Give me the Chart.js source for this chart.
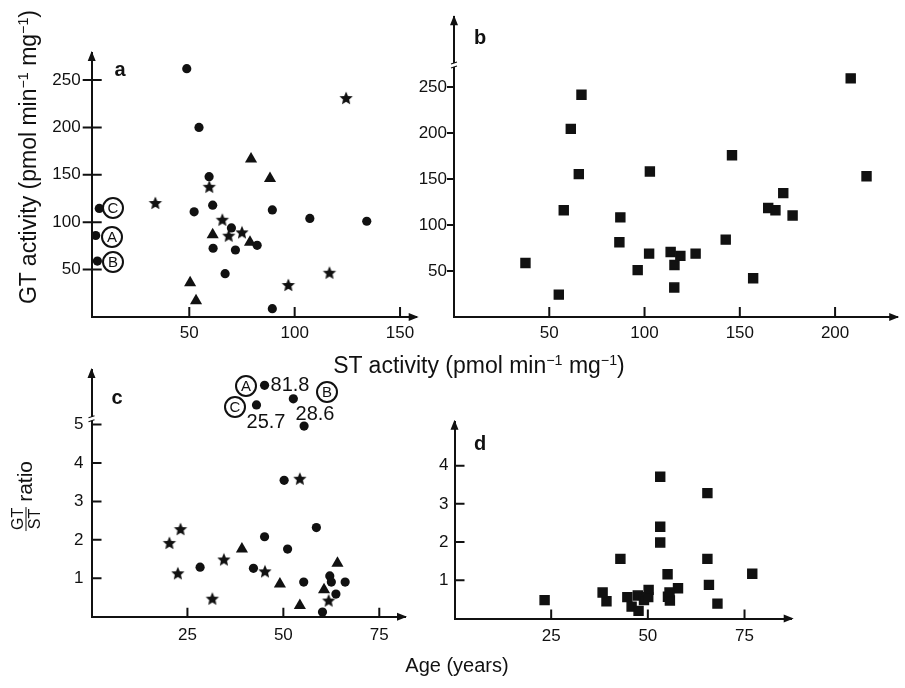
<!DOCTYPE html>
<html>
<head>
<meta charset="utf-8">
<script src="https://cdn.jsdelivr.net/npm/chart.js@4.4.1/dist/chart.umd.min.js"></script>
<style>
body { margin: 0; background: #fff; }
#wrap { position: relative; width: 905px; height: 688px; overflow: hidden; font-family: "Liberation Sans", Arial, sans-serif; color: #111; }
#wrap canvas { position: absolute; left: 0; top: 0; }
.t { position: absolute; white-space: nowrap; line-height: 1; transform: translate(-50%, -50%); }
.title { font-size: 23px; }
.rot { transform: translate(-50%, -50%) rotate(-90deg); }
.letter { font-size: 20px; font-weight: bold; }
.ring { position: absolute; width: 18px; height: 18px; border: 2px solid #111; border-radius: 50%; font-size: 15px; line-height: 18px; text-align: center; transform: translate(-50%, -50%); }
.num { font-size: 20px; }
sup { font-size: 0.62em; vertical-align: 0.55em; }
.frac { display: inline-block; vertical-align: middle; text-align: center; font-size: 16px; line-height: 1; margin-right: 5px; }
.frac span { display: block; padding: 0 1px; }
.frac span:first-child { border-bottom: 1.5px solid #111; }
</style>
</head>
<body>
<div id="wrap">
  <canvas id="chartA" width="905" height="688"></canvas>
  <canvas id="chartB" width="905" height="688"></canvas>
  <canvas id="chartC" width="905" height="688"></canvas>
  <canvas id="chartD" width="905" height="688"></canvas>

  <div class="t title rot" style="left:28px; top:157px;">GT activity (pmol min<sup>−1</sup> mg<sup>−1</sup>)</div>
  <div class="t title" style="left:479px; top:365px;">ST activity (pmol min<sup>−1</sup> mg<sup>−1</sup>)</div>
  <div class="t title rot" style="left:26px; top:496px; font-size:21px;"><span class="frac"><span>GT</span><span>ST</span></span>ratio</div>
  <div class="t title" style="left:457px; top:665px; font-size:20px;">Age (years)</div>

  <div class="t letter" style="left:120px; top:69px;">a</div>
  <div class="t letter" style="left:480px; top:37px;">b</div>
  <div class="t letter" style="left:117px; top:397px;">c</div>
  <div class="t letter" style="left:480px; top:443px;">d</div>

  <div class="ring" style="left:113px; top:208px;">C</div>
  <div class="ring" style="left:112px; top:237px;">A</div>
  <div class="ring" style="left:113px; top:262px;">B</div>

  <div class="ring" style="left:246px; top:386px;">A</div>
  <div class="ring" style="left:235px; top:407px;">C</div>
  <div class="ring" style="left:327px; top:392px;">B</div>
  <div class="t num" style="left:290px; top:384px;">81.8</div>
  <div class="t num" style="left:315px; top:413px;">28.6</div>
  <div class="t num" style="left:266px; top:421px;">25.7</div>
</div>

<script>
// ---- Panel a: GT vs ST activity (circles, triangles, stars)
const aCircleST = [48.8, 54.6, 59.4, 61.1, 52.3, 89.4, 107.2, 134.2, 70, 61.3, 71.9, 82.2, 67, 89.4, 7.3, 5.6, 6.4];
const aCircleGT = [262, 200, 148, 118, 111, 113, 104, 101, 94, 72.5, 70.7, 75.6, 45.7, 8.8, 114.5, 86, 59];
const aTriST = [79.3, 88.3, 61.1, 78.8, 50.4, 53.2];
const aTriGT = [166.7, 146, 86.8, 78.8, 36.2, 17.2];
const aStarST = [124.4, 33.9, 59.5, 65.7, 75, 68.7, 116.5, 97];
const aStarGT = [231, 120.3, 137.4, 102.6, 89.3, 85.8, 46.7, 33.8];

// ---- Panel b: GT vs ST activity (squares)
const bSquareST = [66.9, 61.3, 65.5, 57.6, 102.8, 87.3, 86.8, 37.5, 55, 96.4, 102.4, 113.7, 118.8, 115.7, 115.6,
                   126.8, 142.6, 145.9, 157, 164.9, 168.7, 172.8, 177.7, 208.2, 216.5];
const bSquareGT = [241.6, 204.6, 155.4, 116, 158.2, 108.3, 81.2, 58.8, 24.3, 51, 68.9, 70.7, 66.5, 56.6, 32,
                   68.9, 84.1, 175.8, 42.2, 118.5, 116, 134.7, 110.4, 259.5, 153];

// ---- Panel c: GT/ST ratio vs age (circles, triangles, stars)
const cCircleAge = [55.4, 50.2, 58.6, 45.1, 51.1, 28.3, 42.2, 55.3, 62.1, 62.5, 66.1, 63.7, 60.2];
const cCircleRatio = [4.96, 3.55, 2.32, 2.08, 1.76, 1.29, 1.26, 0.9, 1.06, 0.9, 0.9, 0.59, 0.12];
// above the axis break: plotted positions, true ratios are written beside them (81.8, 25.7, 28.6)
const cBreakAge = [45.1, 43, 52.6];
const cBreakPlotted = [6.02, 5.51, 5.67];
const cTriAge = [39.2, 49.1, 54.3, 64.1, 60.6];
const cTriRatio = [1.76, 0.85, 0.29, 1.39, 0.7];
const cStarAge = [54.3, 23.2, 20.3, 22.5, 34.5, 45.2, 31.5, 61.8];
const cStarRatio = [3.59, 2.28, 1.92, 1.13, 1.49, 1.18, 0.47, 0.42];

// ---- Panel d: GT/ST ratio vs age (squares)
const dSquareAge = [23.3, 38.3, 39.3, 42.9, 44.7, 45.8, 47.4, 47.6, 49, 50.2, 50.1, 53.2, 53.2, 53.2, 55.1, 55.2, 55.7, 55.6, 57.8,
                    65.4, 65.4, 65.8, 68, 77];
const dSquareRatio = [0.48, 0.68, 0.45, 1.56, 0.56, 0.31, 0.6, 0.2, 0.48, 0.75, 0.56, 3.71, 2.4, 1.99, 1.16, 0.57, 0.47, 0.68, 0.79,
                      3.28, 1.56, 0.88, 0.39, 1.17];

// tick labels
const activityTicksA = [50, 100, 150];
const activityTicksB = [50, 100, 150, 200];
const gtTicks = [50, 100, 150, 200, 250];
const ageTicks = [25, 50, 75];
const ratioTicksC = [1, 2, 3, 4, 5];
const ratioTicksD = [1, 2, 3, 4];

const INK = '#111';
const tickFont = {family: '"Liberation Sans", Arial, sans-serif', size: 17};

const pts = (xs, ys) => xs.map((x, i) => ({x: x, y: ys[i]}));

function starImage(r) {
    const s = Math.ceil(r * 2 + 2);
    const c = document.createElement('canvas');
    c.width = s; c.height = s;
    const g = c.getContext('2d');
    g.fillStyle = INK;
    g.beginPath();
    for (let i = 0; i < 10; i++) {
        const rr = i % 2 ? r * 0.46 : r;
        const ang = -Math.PI / 2 + i * Math.PI / 5;
        g.lineTo(s / 2 + rr * Math.cos(ang), s / 2 + 0.5 + rr * Math.sin(ang));
    }
    g.closePath();
    g.fill();
    return c;
}
const star = starImage(7);

function series(data, style, radius) {
    return {
        data: data, pointStyle: style, pointRadius: radius,
        pointBackgroundColor: INK, pointBorderColor: INK, pointBorderWidth: style === 'rect' ? 1.5 : 0,
        showLine: false, clip: false
    };
}

// tick marks, arrow heads and axis breaks
const axisDecor = {
    id: 'axisDecor',
    afterDraw(chart, args, o) {
        const {ctx, chartArea: a, scales: {x, y}} = chart;
        ctx.save();
        ctx.strokeStyle = INK;
        ctx.fillStyle = INK;
        ctx.lineWidth = 2;
        ctx.beginPath();
        x.ticks.forEach(t => {
            const px = x.getPixelForValue(t.value);
            ctx.moveTo(px, a.bottom - o.xIn);
            ctx.lineTo(px, a.bottom);
        });
        y.ticks.forEach(t => {
            const py = y.getPixelForValue(t.value);
            ctx.moveTo(a.left - o.yOut, py);
            ctx.lineTo(a.left + o.yIn, py);
        });
        ctx.stroke();
        // arrows
        ctx.beginPath();
        ctx.moveTo(a.left, a.top - 2);
        ctx.lineTo(a.left - 4, a.top + 8);
        ctx.lineTo(a.left + 4, a.top + 8);
        ctx.closePath();
        ctx.moveTo(a.right + 2, a.bottom);
        ctx.lineTo(a.right - 8, a.bottom - 4);
        ctx.lineTo(a.right - 8, a.bottom + 4);
        ctx.closePath();
        ctx.fill();
        // axis break
        if (o.breakAt != null) {
            const py = y.getPixelForValue(o.breakAt);
            ctx.fillStyle = '#fff';
            ctx.fillRect(a.left - 3, py - 2, 6, 4);
            ctx.lineWidth = 1.2;
            ctx.beginPath();
            ctx.moveTo(a.left - 3, py - 1); ctx.lineTo(a.left + 3, py - 3);
            ctx.moveTo(a.left - 3, py + 3); ctx.lineTo(a.left + 3, py + 1);
            ctx.stroke();
        }
        ctx.restore();
    }
};

function makePanel(id, box, xRange, yRange, xTicks, yTicks, datasets, deco) {
    return new Chart(document.getElementById(id), {
        type: 'scatter',
        data: {datasets: datasets},
        options: {
            responsive: false, animation: false, events: [], devicePixelRatio: 1,
            layout: {padding: {left: 0, top: box.top, right: 905 - box.right, bottom: 688 - box.bottom - 40}},
            plugins: {legend: {display: false}, tooltip: {enabled: false}, axisDecor: deco},
            scales: {
                x: {
                    type: 'linear', min: xRange[0], max: xRange[1],
                    afterFit: s => { s.height = 40; },
                    afterBuildTicks: s => { s.ticks = xTicks.map(v => ({value: v})); },
                    grid: {display: false, drawTicks: false},
                    border: {display: true, color: INK, width: 2},
                    ticks: {padding: deco.xPad, font: tickFont, color: INK}
                },
                y: {
                    type: 'linear', min: yRange[0], max: yRange[1],
                    afterFit: s => { s.width = box.left; },
                    afterBuildTicks: s => { s.ticks = yTicks.map(v => ({value: v})); },
                    grid: {display: false, drawTicks: false},
                    border: {display: true, color: INK, width: 2},
                    ticks: {padding: deco.yPad, font: tickFont, color: INK}
                }
            }
        },
        plugins: [axisDecor]
    });
}

makePanel('chartA', {left: 91.7, top: 53, right: 416.7, bottom: 317}, [3.7, 157.9], [0, 278.5],
    activityTicksA, gtTicks,
    [series(pts(aCircleST, aCircleGT), 'circle', 4.6),
     series(pts(aTriST, aTriGT), 'triangle', 7),
     series(pts(aStarST, aStarGT), star, 7)],
    {xIn: 10, yIn: 10, yOut: 9, xPad: 6, yPad: 11});

makePanel('chartB', {left: 454, top: 8, right: 903, bottom: 317}, [0, 232.6], [0, 326],
    activityTicksB, gtTicks,
    [series(pts(bSquareST, bSquareGT), 'rect', 6.3)],
    {xIn: 10, yIn: 0, yOut: 7, xPad: 6, yPad: 7, breakAt: 274});

makePanel('chartC', {left: 91.5, top: 370, right: 405, bottom: 616.7}, [0, 81.7], [0, 6.42],
    ageTicks, ratioTicksC,
    [series(pts(cCircleAge, cCircleRatio), 'circle', 4.6),
     series(pts(cBreakAge, cBreakPlotted), 'circle', 4.6),
     series(pts(cTriAge, cTriRatio), 'triangle', 7),
     series(pts(cStarAge, cStarRatio), star, 7)],
    {xIn: 9, yIn: 10, yOut: 0, xPad: 8, yPad: 8, breakAt: 5.15});

makePanel('chartD', {left: 454.5, top: 421.7, right: 791.7, bottom: 618.5}, [0, 87.2], [0, 5.15],
    ageTicks, ratioTicksD,
    [series(pts(dSquareAge, dSquareRatio), 'rect', 6.3)],
    {xIn: 9, yIn: 10, yOut: 0, xPad: 8, yPad: 6});
</script>
</body>
</html>
